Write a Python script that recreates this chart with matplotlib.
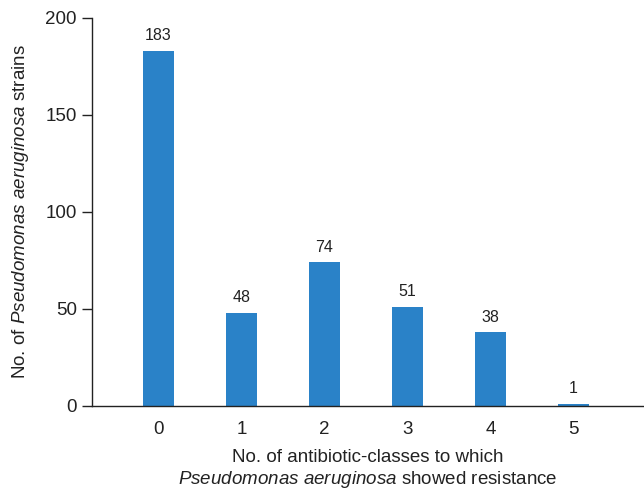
import numpy as np
import matplotlib.pyplot as plt

plt.rcParams['font.family'] = ['Liberation Sans', 'DejaVu Sans']
plt.rcParams['mathtext.fontset'] = 'custom'
plt.rcParams['mathtext.rm'] = 'Liberation Sans'
plt.rcParams['mathtext.it'] = 'Liberation Sans:italic'

# Data
classes = ['0', '1', '2', '3', '4', '5']
counts = [183, 48, 74, 51, 38, 1]
yticks = [0, 50, 100, 150, 200]

fig = plt.figure(figsize=(6.44, 4.93), dpi=100)
ax = fig.add_axes([0.1429, 0.1765, 0.8571, 0.787])

x = np.arange(len(classes))
bars = ax.bar(x, counts, width=0.375, color='#2A82C8')
for xi, v in zip(x, counts):
    ax.text(xi, v + 4, str(v), ha='center', va='bottom', fontsize=11.5, color='#222222')

ax.set_xlim(-0.8, 5.85)
ax.set_ylim(0, 200)
ax.set_xticks(x)
ax.set_xticklabels(classes)
ax.set_yticks(yticks)
ax.tick_params(axis='x', length=0, pad=11, labelsize=13.5, colors='#222222')
ax.tick_params(axis='y', length=7, width=1, pad=4, labelsize=13.5, colors='#222222')

for s in ['top', 'right']:
    ax.spines[s].set_visible(False)
for s in ['left', 'bottom']:
    ax.spines[s].set_linewidth(1)
    ax.spines[s].set_color('#222222')

ax.set_ylabel(r'No. of $\it{Pseudomonas\ aeruginosa}$ strains', fontsize=13.5,
              color='#222222', labelpad=10)
ax.set_xlabel('No. of antibiotic-classes to which\n'
              r'$\it{Pseudomonas\ aeruginosa}$ showed resistance',
              fontsize=13.5, color='#222222', labelpad=8, linespacing=1.15)

fig.savefig('out.png', dpi=100)
